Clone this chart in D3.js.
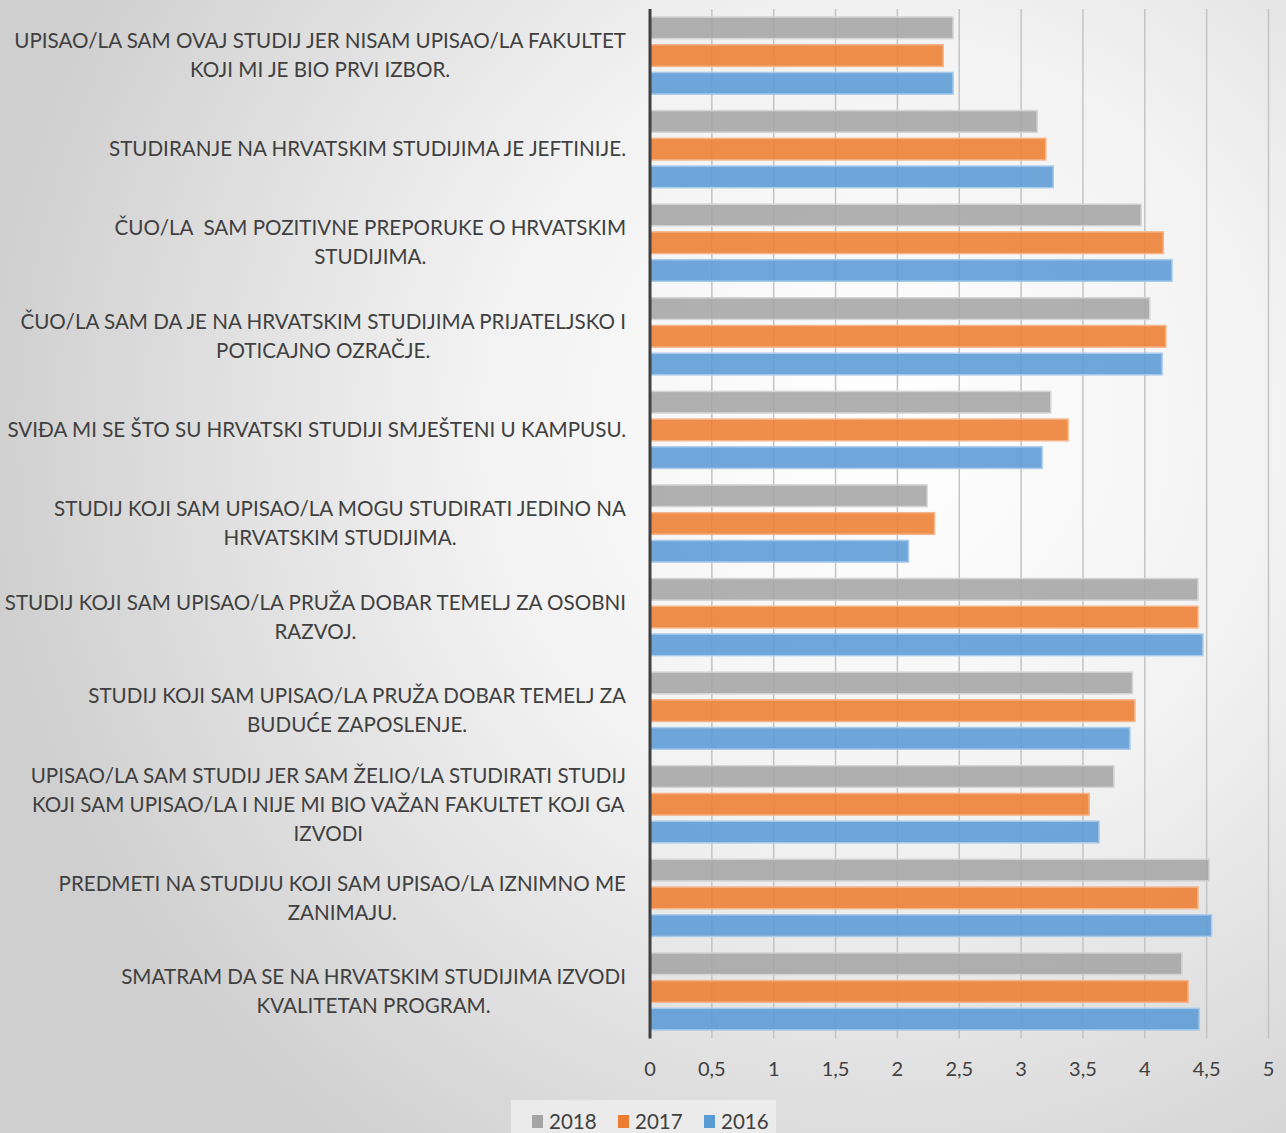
<!DOCTYPE html>
<html><head><meta charset="utf-8">
<script src="https://cdn.jsdelivr.net/npm/d3@7"></script>
<style>html,body{margin:0;padding:0;overflow:hidden}</style>
</head><body>
<script>
const categories = [
  ["UPISAO/LA SAM OVAJ STUDIJ JER NISAM UPISAO/LA FAKULTET","KOJI MI JE BIO PRVI IZBOR."],
  ["STUDIRANJE NA HRVATSKIM STUDIJIMA JE JEFTINIJE."],
  ["ČUO/LA  SAM POZITIVNE PREPORUKE O HRVATSKIM","STUDIJIMA."],
  ["ČUO/LA SAM DA JE NA HRVATSKIM STUDIJIMA PRIJATELJSKO I","POTICAJNO OZRAČJE."],
  ["SVIĐA MI SE ŠTO SU HRVATSKI STUDIJI SMJEŠTENI U KAMPUSU."],
  ["STUDIJ KOJI SAM UPISAO/LA MOGU STUDIRATI JEDINO NA","HRVATSKIM STUDIJIMA."],
  ["STUDIJ KOJI SAM UPISAO/LA PRUŽA DOBAR TEMELJ ZA OSOBNI","RAZVOJ."],
  ["STUDIJ KOJI SAM UPISAO/LA PRUŽA DOBAR TEMELJ ZA","BUDUĆE ZAPOSLENJE."],
  ["UPISAO/LA SAM STUDIJ JER SAM ŽELIO/LA STUDIRATI STUDIJ","KOJI SAM UPISAO/LA I NIJE MI BIO VAŽAN FAKULTET KOJI GA","IZVODI"],
  ["PREDMETI NA STUDIJU KOJI SAM UPISAO/LA IZNIMNO ME","ZANIMAJU."],
  ["SMATRAM DA SE NA HRVATSKIM STUDIJIMA IZVODI","KVALITETAN PROGRAM."]
];
const seriesNames = ["2018","2017","2016"];
const values2018 = [2.45,3.13,3.97,4.04,3.24,2.24,4.43,3.90,3.75,4.52,4.30];
const values2017 = [2.37,3.20,4.15,4.17,3.38,2.30,4.43,3.92,3.55,4.43,4.35];
const values2016 = [2.45,3.26,4.22,4.14,3.17,2.09,4.47,3.88,3.63,4.54,4.44];
const tickValues = [0,0.5,1,1.5,2,2.5,3,3.5,4,4.5,5];
const colors = ["#a5a5a5","#ed7d31","#5b9bd5"];
const strokes = ["#d4d4d4","#f6b48a","#a9cbeb"];

const W = 1286, H = 1133;
const svg = d3.select("body").append("svg").attr("width",W).attr("height",H)
  .style("font-family","Lato, 'Open Sans', sans-serif");

const defs = svg.append("defs");
const rg = defs.append("radialGradient").attr("id","bg")
  .attr("gradientUnits","userSpaceOnUse").attr("cx",880).attr("cy",430).attr("r",900);
rg.append("stop").attr("offset","0").attr("stop-color","#ffffff");
rg.append("stop").attr("offset","0.45").attr("stop-color","#f2f2f2");
rg.append("stop").attr("offset","1").attr("stop-color","#cfcfcf");
svg.append("rect").attr("width",W).attr("height",H).attr("fill","url(#bg)");

const x = d3.scaleLinear().domain([0,5]).range([650,1268.5]);
const y = d3.scaleBand().domain(d3.range(categories.length)).range([9,1038.5]).paddingInner(0).paddingOuter(0);
const yInner = d3.scaleBand().domain(d3.range(3)).range([8,y.bandwidth()-8.5]).paddingInner(0.22).paddingOuter(0);

// gridlines
svg.append("g").selectAll("line").data(tickValues.slice(1)).join("line")
  .attr("x1",d=>x(d)).attr("x2",d=>x(d)).attr("y1",9).attr("y2",1038.5)
  .attr("stroke","#c4c4c4").attr("stroke-width",1.5);

// bars
const allSeries = [values2018, values2017, values2016];
const groups = svg.append("g").selectAll("g").data(categories.map((c,i)=>i)).join("g")
  .attr("transform",i=>`translate(0,${y(i)})`);
groups.selectAll("rect").data(i=>allSeries.map((s,k)=>({k,v:s[i]}))).join("rect")
  .attr("x",x(0)).attr("y",d=>yInner(d.k))
  .attr("width",d=>x(d.v)-x(0)).attr("height",yInner.bandwidth())
  .attr("fill",d=>colors[d.k]).attr("fill-opacity",0.88)
  .attr("stroke",d=>strokes[d.k]).attr("stroke-width",1.5);

// axis line
svg.append("line").attr("x1",x(0)).attr("x2",x(0)).attr("y1",9).attr("y2",1038.5)
  .attr("stroke","#404040").attr("stroke-width",3);

// category labels: block right-aligned at 626, lines centred within block
const lh = 29, labelRight = 626;
const lab = svg.append("g").selectAll("text").data(categories.map((c,i)=>({c,i}))).join("text")
  .attr("text-anchor","middle").attr("fill","#404040").attr("font-size",20.6)
  .style("white-space","pre");
lab.each(function(d){
  const n = d.c.length;
  const cy = y(d.i)+y.bandwidth()/2;
  const t = d3.select(this);
  const ts = t.selectAll("tspan").data(d.c).join("tspan")
    .attr("y",(s,j)=>cy + (j-(n-1)/2)*lh + 7).text(s=>s);
  let maxW = 0;
  ts.each(function(){ maxW = Math.max(maxW, this.getComputedTextLength()); });
  ts.attr("x", labelRight - maxW/2);
});

// x tick labels
svg.append("g").selectAll("text").data(tickValues).join("text")
  .attr("x",d=>x(d)).attr("y",1076).attr("text-anchor","middle")
  .attr("fill","#404040").attr("font-size",20)
  .text(d=>String(d).replace(".",","));

// legend
const lg = svg.append("g");
lg.append("rect").attr("x",511).attr("y",1100).attr("width",265).attr("height",40).attr("fill","#efefef").attr("fill-opacity",0.8);
const li = lg.selectAll("g").data(seriesNames).join("g").attr("transform",(d,i)=>`translate(${532+i*86},0)`);
li.append("rect").attr("x",0).attr("y",1115).attr("width",11).attr("height",13).attr("fill",(d,i)=>colors[i]);
li.append("text").attr("x",17).attr("y",1129).attr("fill","#404040").attr("font-size",20.5).text(d=>d);
</script>
</body></html>
